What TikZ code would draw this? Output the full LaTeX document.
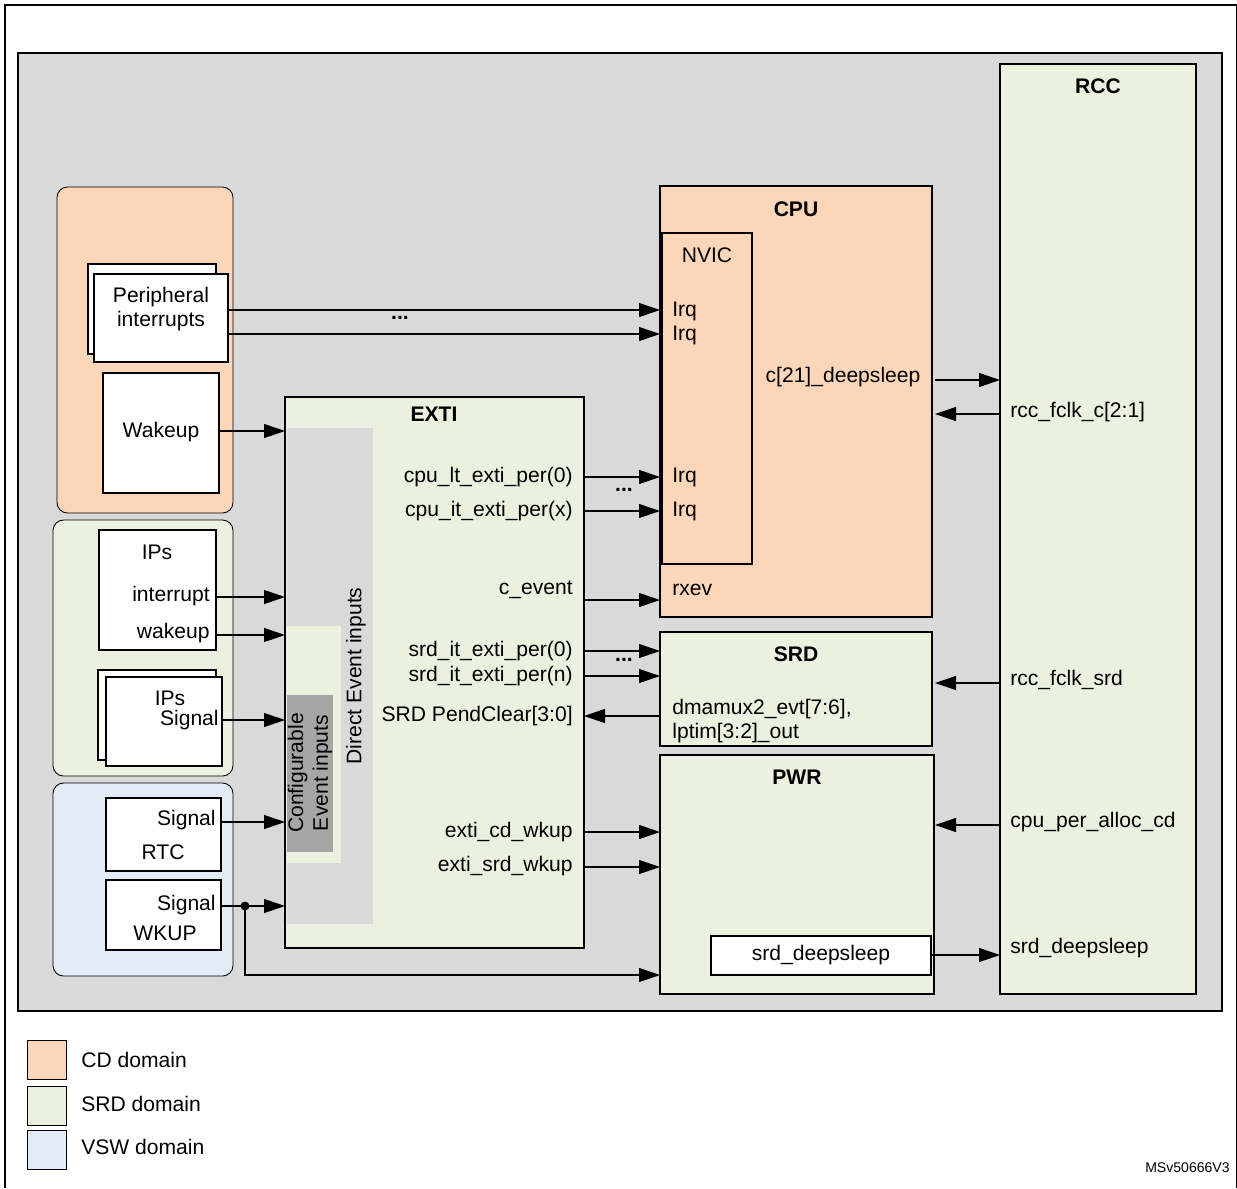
\documentclass[tikz,border=0pt]{standalone}
\usepackage{fontspec}
\setmainfont{Liberation Sans}
\usetikzlibrary{arrows.meta}
\definecolor{bg}{HTML}{D9D9D9}
\definecolor{cd}{HTML}{FBD6B8}
\definecolor{srd}{HTML}{EBF1DE}
\definecolor{vsw}{HTML}{E3EBF6}
\definecolor{dk}{HTML}{A6A6A6}
\begin{document}
\begin{tikzpicture}[x=0.02cm,y=-0.02cm,
  every node/.style={font=\fontsize{12}{14}\selectfont,inner sep=0pt},
  box/.style={draw,line width=1.2pt},
  dom/.style={draw,line width=0.5pt,rounded corners=6pt},
  arr/.style={-{Triangle[length=4.2mm,width=2.8mm]},line width=0.6pt},
  lbl/.style={anchor=west},
  rlbl/.style={anchor=east},
  ttl/.style={font=\fontsize{12}{14}\selectfont\bfseries}]
\useasboundingbox (0,0) rectangle (1237,1188);
\draw[line width=1pt] (5,1188) -- (5,5) -- (1237,5);
\draw[line width=1pt] (1237,5) -- (1237,1188);
\draw[box,fill=bg] (18,53) rectangle (1222,1011);
% domains
\draw[dom,fill=cd] (57,187) rectangle (233,513);
\draw[dom,fill=srd] (53,520) rectangle (233,776);
\draw[dom,fill=vsw] (53,783) rectangle (233,976);
% left boxes
\draw[box,fill=white] (88,264) rectangle (216,354);
\draw[box,fill=white] (94,274) rectangle (228,362);
\node[align=center] (pi) at (161,309) {Peripheral\\interrupts};
\draw[box,fill=white] (103,373) rectangle (219,493);
\node (wk) at (161,432) {Wakeup};
\draw[box,fill=white] (99,530) rectangle (216,650);
\node (ips1) at (157,552) {IPs};
\node[rlbl] (ipint) at (210,596) {interrupt};
\node[rlbl] (ipwk) at (210,633) {wakeup};
\draw[box,fill=white] (98,670) rectangle (216,760);
\draw[box,fill=white] (106,677) rectangle (222,766);
\node (ips2) at (170,698) {IPs};
\node[rlbl] (ipsig) at (219,720) {Signal};
\draw[box,fill=white] (106,798) rectangle (221,871);
\node[rlbl] (rtcs) at (216,820) {Signal};
\node (rtc) at (163,852) {RTC};
\draw[box,fill=white] (106,880) rectangle (221,950);
\node[rlbl] (wks) at (216,905) {Signal};
\node (wkup) at (165,933) {WKUP};
% EXTI
\draw[box,fill=srd] (285,397) rectangle (584,948);
\fill[bg] (287,428) rectangle (373,924);
\fill[srd] (287,626) rectangle (341,863);
\fill[dk] (287,695) rectangle (333,852);
\node[ttl] (exti) at (434,414) {EXTI};
\node[rotate=90] (dei) at (356,676) {Direct Event inputs};
\node[rotate=90,align=center] (cei) at (310,773) {Configurable\\Event inputs};
% CPU
\draw[box,fill=cd] (660,186) rectangle (932,617);
\node[ttl] (cpu) at (796,209) {CPU};
\draw[box] (662,233) rectangle (752,564);
\node (nvic) at (707,255) {NVIC};
\node[lbl] at (672,311) {Irq};
\node[lbl] at (672,335) {Irq};
\node[lbl] at (672,477) {Irq};
\node[lbl] at (672,511) {Irq};
\node[lbl] at (672,590) {rxev};
\node (cds) at (843,377) {c[21]\_deepsleep};
% SRD
\draw[box,fill=srd] (660,632) rectangle (932,746);
\node[ttl] (srdt) at (796,654) {SRD};
\node[lbl,align=left] (dmx) at (672,721) {dmamux2\_evt[7:6],\\lptim[3:2]\_out};
% PWR
\draw[box,fill=srd] (660,755) rectangle (934,994);
\node[ttl] (pwr) at (797,777) {PWR};
\draw[box,fill=white] (711,936) rectangle (931,975);
\node (sds) at (821,955) {srd\_deepsleep};
% RCC
\draw[box,fill=srd] (1000,64) rectangle (1196,994);
\node[ttl] (rcc) at (1098,86) {RCC};
\node[lbl] at (1010,412) {rcc\_fclk\_c[2:1]};
\node[lbl] at (1010,680) {rcc\_fclk\_srd};
\node[lbl] at (1010,822) {cpu\_per\_alloc\_cd};
\node[lbl] at (1010,948) {srd\_deepsleep};
% EXTI labels
\node[rlbl] at (573,477) {cpu\_lt\_exti\_per(0)};
\node[rlbl] at (573,511) {cpu\_it\_exti\_per(x)};
\node[rlbl] at (573,590) {c\_event};
\node[rlbl] at (573,651) {srd\_it\_exti\_per(0)};
\node[rlbl] at (573,676) {srd\_it\_exti\_per(n)};
\node[rlbl] at (573,716) {SRD PendClear[3:0]};
\node[rlbl] at (573,832) {exti\_cd\_wkup};
\node[rlbl] at (573,866) {exti\_srd\_wkup};
\node[font=\fontsize{12}{14}\selectfont\bfseries] at (400,318) {...};
\node[font=\fontsize{12}{14}\selectfont\bfseries] at (624,490) {...};
\node[font=\fontsize{12}{14}\selectfont\bfseries] at (624,660) {...};
% arrows
\draw[arr] (228,310) -- (660,310);
\draw[arr] (228,334) -- (660,334);
\draw[arr] (219,431) -- (285,431);
\draw[arr] (216,597) -- (285,597);
\draw[arr] (216,635) -- (285,635);
\draw[arr] (222,720) -- (285,720);
\draw[arr] (221,822) -- (285,822);
\draw[arr] (221,906) -- (285,906);
\fill (245,906) circle (4.5);
\draw[arr] (245,906) -- (245,975) -- (660,975);
\draw[arr] (584,477) -- (660,477);
\draw[arr] (584,511) -- (660,511);
\draw[arr] (584,600) -- (660,600);
\draw[arr] (584,651) -- (660,651);
\draw[arr] (584,676) -- (660,676);
\draw[arr] (660,716) -- (584,716);
\draw[arr] (584,832) -- (660,832);
\draw[arr] (584,867) -- (660,867);
\draw[arr] (935,380) -- (1000,380);
\draw[arr] (1000,414) -- (935,414);
\draw[arr] (1000,683) -- (935,683);
\draw[arr] (1000,825) -- (935,825);
\draw[arr] (931,955) -- (1000,955);
% legend
\draw[line width=0.5pt,fill=cd] (27,1040) rectangle (66,1079);
\draw[line width=0.5pt,fill=srd] (27,1086) rectangle (66,1125);
\draw[line width=0.5pt,fill=vsw] (27,1130) rectangle (66,1169);
\node[lbl] at (81,1060) {CD domain};
\node[lbl] at (81,1104) {SRD domain};
\node[lbl] at (81,1147) {VSW domain};
\node[anchor=east,font=\fontsize{8}{9}\selectfont] at (1230,1168) {MSv50666V3};
\end{tikzpicture}
\end{document}
